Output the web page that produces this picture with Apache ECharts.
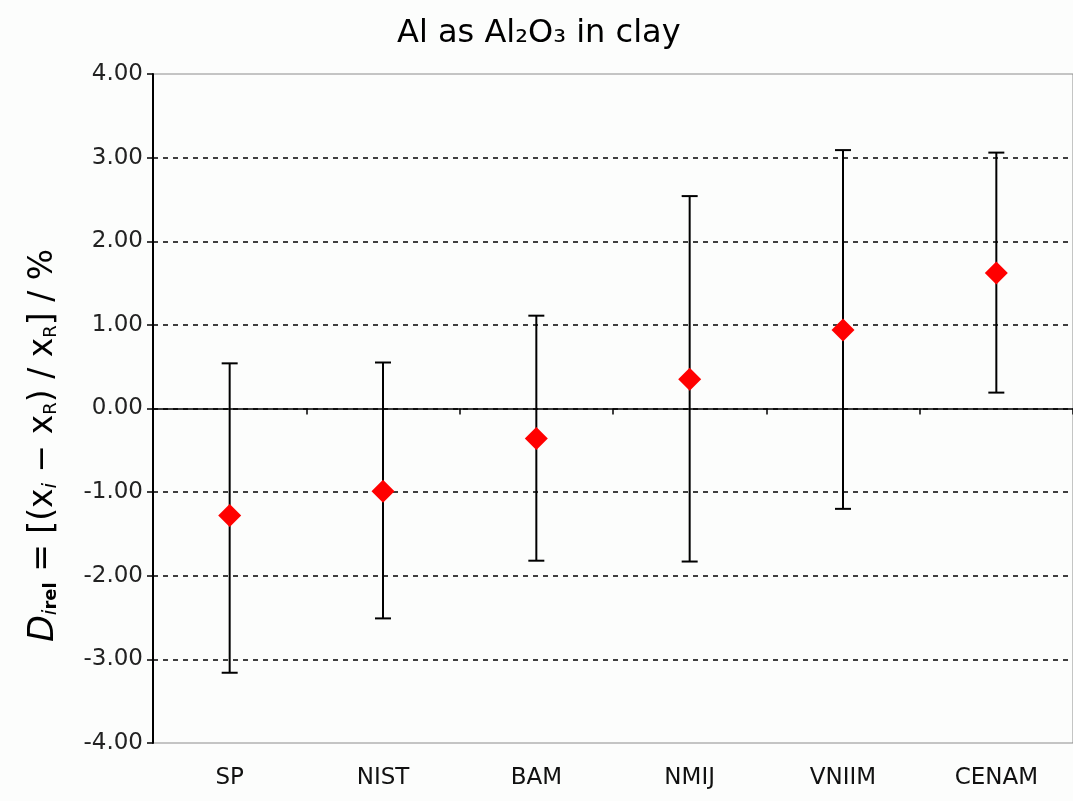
<!DOCTYPE html>
<html>
<head>
<meta charset="utf-8">
<title>Al as Al2O3 in clay</title>
<script src="https://cdn.jsdelivr.net/npm/echarts@6/dist/echarts.min.js"></script>
<style>
  html, body { margin: 0; padding: 0; background: #fcfdfc; }
  #chart { width: 1073px; height: 801px; }
</style>
</head>
<body>
<div id="chart"></div>
<script>
// lab results (relative deviation, %)
const labs = ['SP', 'NIST', 'BAM', 'NMIJ', 'VNIIM', 'CENAM']
const values = [-1.28, -0.99, -0.36, 0.35, 0.94, 1.62]
const upper = [0.54, 0.55, 1.11, 2.54, 3.09, 3.06]
const lower = [-3.16, -2.51, -1.82, -1.83, -1.20, 0.19]
const yTicks = [-4, -3, -2, -1, 0, 1, 2, 3, 4]

const font = 'DejaVu Sans, Verdana, sans-serif'

const chart = echarts.init(document.getElementById('chart'))

// split lines: hide the outer two (grid border is drawn there)
const splitColors = yTicks.map((v, i) => (i === 0 || i === yTicks.length - 1) ? 'rgba(0,0,0,0)' : '#000')

chart.setOption({
  backgroundColor: '#fcfdfc',
  animation: false,
  title: {
    text: 'Al as Al₂O₃ in clay',
    left: 392,
    top: 13,
    textStyle: { fontFamily: font, fontSize: 32, fontWeight: 'normal', color: '#000' }
  },
  grid: {
    left: 153,
    right: -4,
    top: 74,
    bottom: 58,
    show: true,
    borderColor: '#8c8c8c',
    borderWidth: 1,
    backgroundColor: 'transparent'
  },
  xAxis: [
    {
      type: 'category',
      data: labs,
      position: 'bottom',
      axisLine: { show: false, onZero: false },
      axisTick: { show: false },
      axisLabel: { margin: 24, fontFamily: font, fontSize: 23, color: '#111' },
      splitLine: { show: false }
    },
    {
      type: 'category',
      data: labs,
      position: 'bottom',
      axisLine: { show: true, onZero: true, lineStyle: { color: '#000', width: 1.5 } },
      axisTick: { show: true, length: 6, lineStyle: { color: '#000', width: 1.5 } },
      axisLabel: { show: false },
      splitLine: { show: false }
    }
  ],
  yAxis: {
    type: 'value',
    min: yTicks[0],
    max: yTicks[yTicks.length - 1],
    interval: 1,
    axisLine: { show: true, lineStyle: { color: '#000', width: 2 } },
    axisTick: { show: true, length: 6, lineStyle: { color: '#000', width: 1.5 } },
    axisLabel: {
      margin: 10,
      fontFamily: font,
      fontSize: 23,
      color: '#222',
      formatter: v => v.toFixed(2)
    },
    splitLine: {
      show: true,
      lineStyle: { color: splitColors, type: [5, 5], width: 1.5 }
    },
    name: '{d|D}{i|i}{rel|rel}{t| = [(}{x|x}{i|i}{t| − x}{r|R}{t|) / x}{r|R}{t|] / %}',
    nameLocation: 'middle',
    nameRotate: 90,
    nameGap: 92,
    nameTextStyle: {
      padding: [0, 74, 0, 0],
      rich: {
        d: { fontFamily: font, fontStyle: 'italic', fontSize: 35, color: '#000' },
        i: { fontFamily: font, fontStyle: 'italic', fontSize: 20, color: '#000', padding: [15, 0, 0, 0] },
        rel: { fontFamily: font, fontWeight: 'bold', fontSize: 18, color: '#000', padding: [15, 0, 0, 0] },
        t: { fontFamily: font, fontSize: 33, color: '#000' },
        x: { fontFamily: font, fontSize: 33, color: '#000' },
        r: { fontFamily: font, fontSize: 18, color: '#000', padding: [15, 0, 0, 0] }
      }
    }
  },
  series: [
    {
      type: 'custom',
      name: 'uncertainty',
      xAxisIndex: 0,
      data: labs.map((l, i) => [i, lower[i], upper[i]]),
      renderItem(params, api) {
        const lo = api.coord([api.value(0), api.value(1)])
        const hi = api.coord([api.value(0), api.value(2)])
        const cap = 8
        const style = { stroke: '#000', lineWidth: 2 }
        return {
          type: 'group',
          children: [
            { type: 'line', shape: { x1: lo[0], y1: lo[1], x2: hi[0], y2: hi[1] }, style },
            { type: 'line', shape: { x1: hi[0] - cap, y1: hi[1], x2: hi[0] + cap, y2: hi[1] }, style },
            { type: 'line', shape: { x1: lo[0] - cap, y1: lo[1], x2: lo[0] + cap, y2: lo[1] }, style }
          ]
        }
      },
      z: 3
    },
    {
      type: 'scatter',
      name: 'Di rel',
      xAxisIndex: 0,
      data: values,
      symbol: 'diamond',
      symbolSize: [23, 23],
      itemStyle: { color: '#ff0000', opacity: 1 },
      z: 4
    }
  ]
})
</script>
</body>
</html>
